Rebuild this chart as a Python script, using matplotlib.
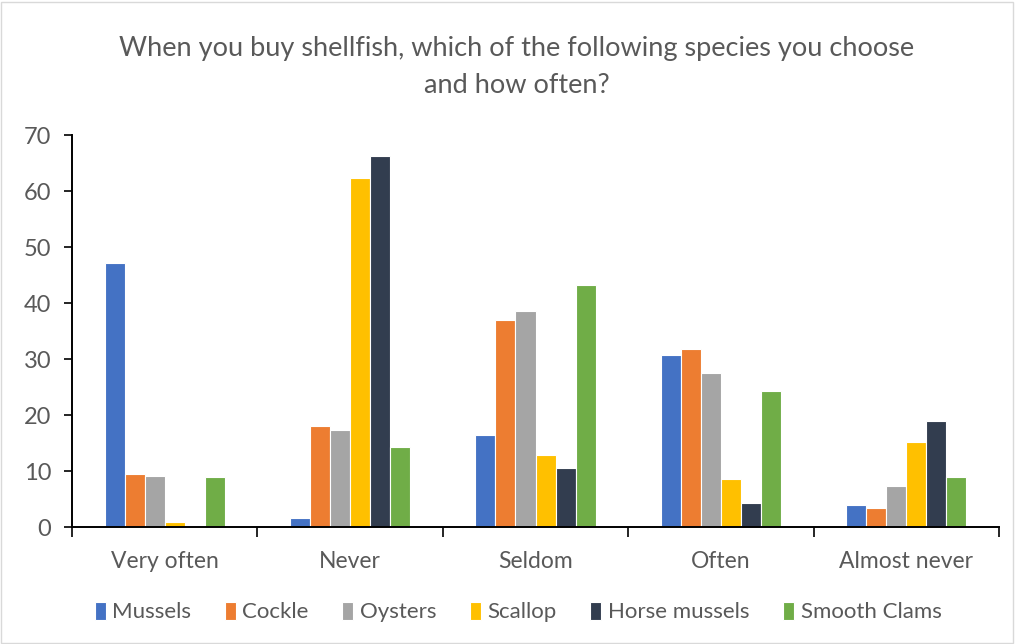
import matplotlib
matplotlib.use("Agg")
import matplotlib.pyplot as plt
import numpy as np
from matplotlib.patches import Rectangle

categories = ["Very often", "Never", "Seldom", "Often", "Almost never"]
series_names = ["Mussels", "Cockle", "Oysters", "Scallop", "Horse mussels", "Smooth Clams"]
mussels = [47.1, 1.55, 16.4, 30.7, 3.9]
cockle = [9.4, 18.1, 37.0, 31.8, 3.4]
oysters = [9.1, 17.4, 38.5, 27.5, 7.3]
scallop = [0.95, 62.3, 12.9, 8.6, 15.1]
horse_mussels = [0.0, 66.3, 10.5, 4.2, 18.9]
smooth_clams = [8.9, 14.3, 43.2, 24.3, 9.0]
values = [mussels, cockle, oysters, scallop, horse_mussels, smooth_clams]
colors = ["#4472C4", "#ED7D31", "#A5A5A5", "#FFC000", "#323D4F", "#70AD47"]
yticks = [0, 10, 20, 30, 40, 50, 60, 70]

plt.rcParams['font.family'] = ['Lato', 'DejaVu Sans']
txt = "#595959"

fig = plt.figure(figsize=(10.15, 6.44), dpi=100)
ax = fig.add_axes([72/1015, 1-527/644, (999-72)/1015, (527-135)/644])

x = np.arange(len(categories))
bw = 0.108
for i, (name, vals, c) in enumerate(zip(series_names, values, colors)):
    ax.bar(x + (i - 2.5) * bw, vals, width=bw, color=c, edgecolor="white",
           linewidth=0.8, label=name)

ax.set_xlim(-0.5, len(categories) - 0.5)
ax.set_ylim(0, 70)
ax.set_yticks(yticks)
ax.set_yticklabels([str(v) for v in yticks], fontsize=17, color=txt)
ax.set_xticks(x)
ax.set_xticklabels(categories, fontsize=16.5, color=txt)
ax.tick_params(axis='x', length=0, pad=17)
ax.set_xticks(np.arange(-0.5, len(categories), 1.0), minor=True)
ax.tick_params(axis='x', which='minor', length=7, width=1.2, direction='out', color='black')
ax.tick_params(axis='y', length=6, width=1.2, direction='out', color='black', pad=9)
for s in ['top', 'right']:
    ax.spines[s].set_visible(False)
ax.spines['left'].set_linewidth(1.4)
ax.spines['bottom'].set_linewidth(1.4)

fig.text(517/1015, 1-67/644, "When you buy shellfish, which of the following species you choose\nand how often?",
         ha='center', va='center', fontsize=19.5, color=txt, linespacing=1.6)

leg = fig.legend(loc='center', bbox_to_anchor=(518/1015, 1-612/644), ncol=6, frameon=False,
                 fontsize=16, handlelength=0.5, handleheight=0.9, handletextpad=0.3,
                 columnspacing=1.5, labelcolor=txt)

fig.patches.append(Rectangle((1/1015, 1/644), 1012/1015, 641/644, transform=fig.transFigure,
                             fill=False, edgecolor="#D9D9D9", linewidth=1))

fig.savefig("out.png", dpi=100)
